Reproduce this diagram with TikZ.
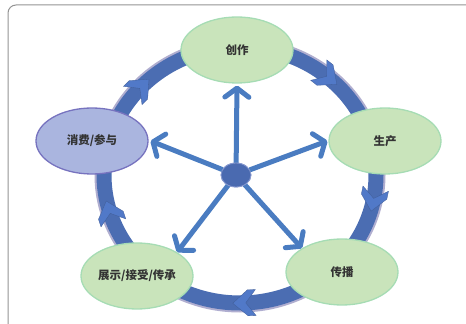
\documentclass[tikz,border=0pt]{standalone}
\usepackage{fontspec}
\setmainfont{Noto Sans CJK SC}
\usetikzlibrary{arrows.meta,shapes.geometric}
\definecolor{gfill}{HTML}{C9E4BB}
\definecolor{gline}{HTML}{A6DCB4}
\definecolor{lfill}{HTML}{AAB5DF}
\definecolor{lline}{HTML}{7773BF}
\definecolor{ringb}{HTML}{4B6DB2}
\definecolor{rings}{HTML}{B0AED0}
\definecolor{spokeb}{HTML}{4A7CC1}
\definecolor{hubf}{HTML}{4A6AB0}
\definecolor{hubl}{HTML}{8A9BD0}
\definecolor{chevb}{HTML}{5179C8}
\definecolor{txt}{HTML}{333333}
\begin{document}
\begin{tikzpicture}[x=1pt,y=1pt,
  stage/.style={ellipse, minimum width=112pt, minimum height=66pt, inner sep=0pt,
    fill=gfill, draw=gline, line width=1.3pt, text=txt, font=\fontsize{11.5pt}{13pt}\selectfont\bfseries},
  stagel/.style={stage, fill=lfill, draw=lline},
  hubnode/.style={ellipse, minimum width=30pt, minimum height=24pt, inner sep=0pt,
    fill=hubf, draw=hubl, line width=0.8pt},
  spoke/.style={draw=spokeb, line width=5pt, line cap=round,
    -{Straight Barb[length=9pt,width=24pt,line cap=round,line join=round]}},
  frame/.style={draw=gray!85, line width=1pt, rounded corners=8pt},
  chev/.style={fill=chevb, draw=ringb!85!black, line width=0.3pt, line join=miter}]
\useasboundingbox (0,0) rectangle (466,324);
\clip (0,0) rectangle (466,324);
\draw[frame] (8,-20) -- (8,319) -- (490,319);
% ring
\draw[rings, line width=15pt] (240,149) ellipse [x radius=138, y radius=130];
\draw[ringb, line width=15pt] (240,149) ellipse [x radius=136, y radius=128];
% chevrons on ring
\foreach \t in {50,-11,-88,197,137} {
  \pgfmathsetmacro\ang{atan2(-128*cos(\t), 136*sin(\t))}
  \pgfmathsetmacro\px{240+136*cos(\t)}
  \pgfmathsetmacro\py{149+128*sin(\t)}
  \filldraw[chev, shift={(\px,\py)}, rotate=\ang]
    (12,0) -- (-3,13) -- (-11,13) -- (-1,0) -- (-11,-13) -- (-3,-13) -- cycle;
}
% stages
\node[stage]  (cz) at (237,274) {创作};
\node[stage]  (sc) at (385,183) {生产};
\node[stage]  (cb) at (342,52)  {传播};
\node[stage]  (zs) at (137,48)  {展示/接受/传承};
\node[stagel] (xf) at (92,183)  {消费/参与};
% hub and spokes
\node[hubnode] (hub) at (236,149) {};
\draw[spoke] (hub) -- ([yshift=-2pt]cz.south);
\draw[spoke] (hub) -- ([xshift=-1pt]sc.west);
\draw[spoke] (hub) -- ([xshift=2pt]xf.east);
\draw[spoke] (hub) -- (zs.north east);
\draw[spoke] (hub) -- (cb.north west);
\node[hubnode] at (hub) {};
\end{tikzpicture}
\end{document}
